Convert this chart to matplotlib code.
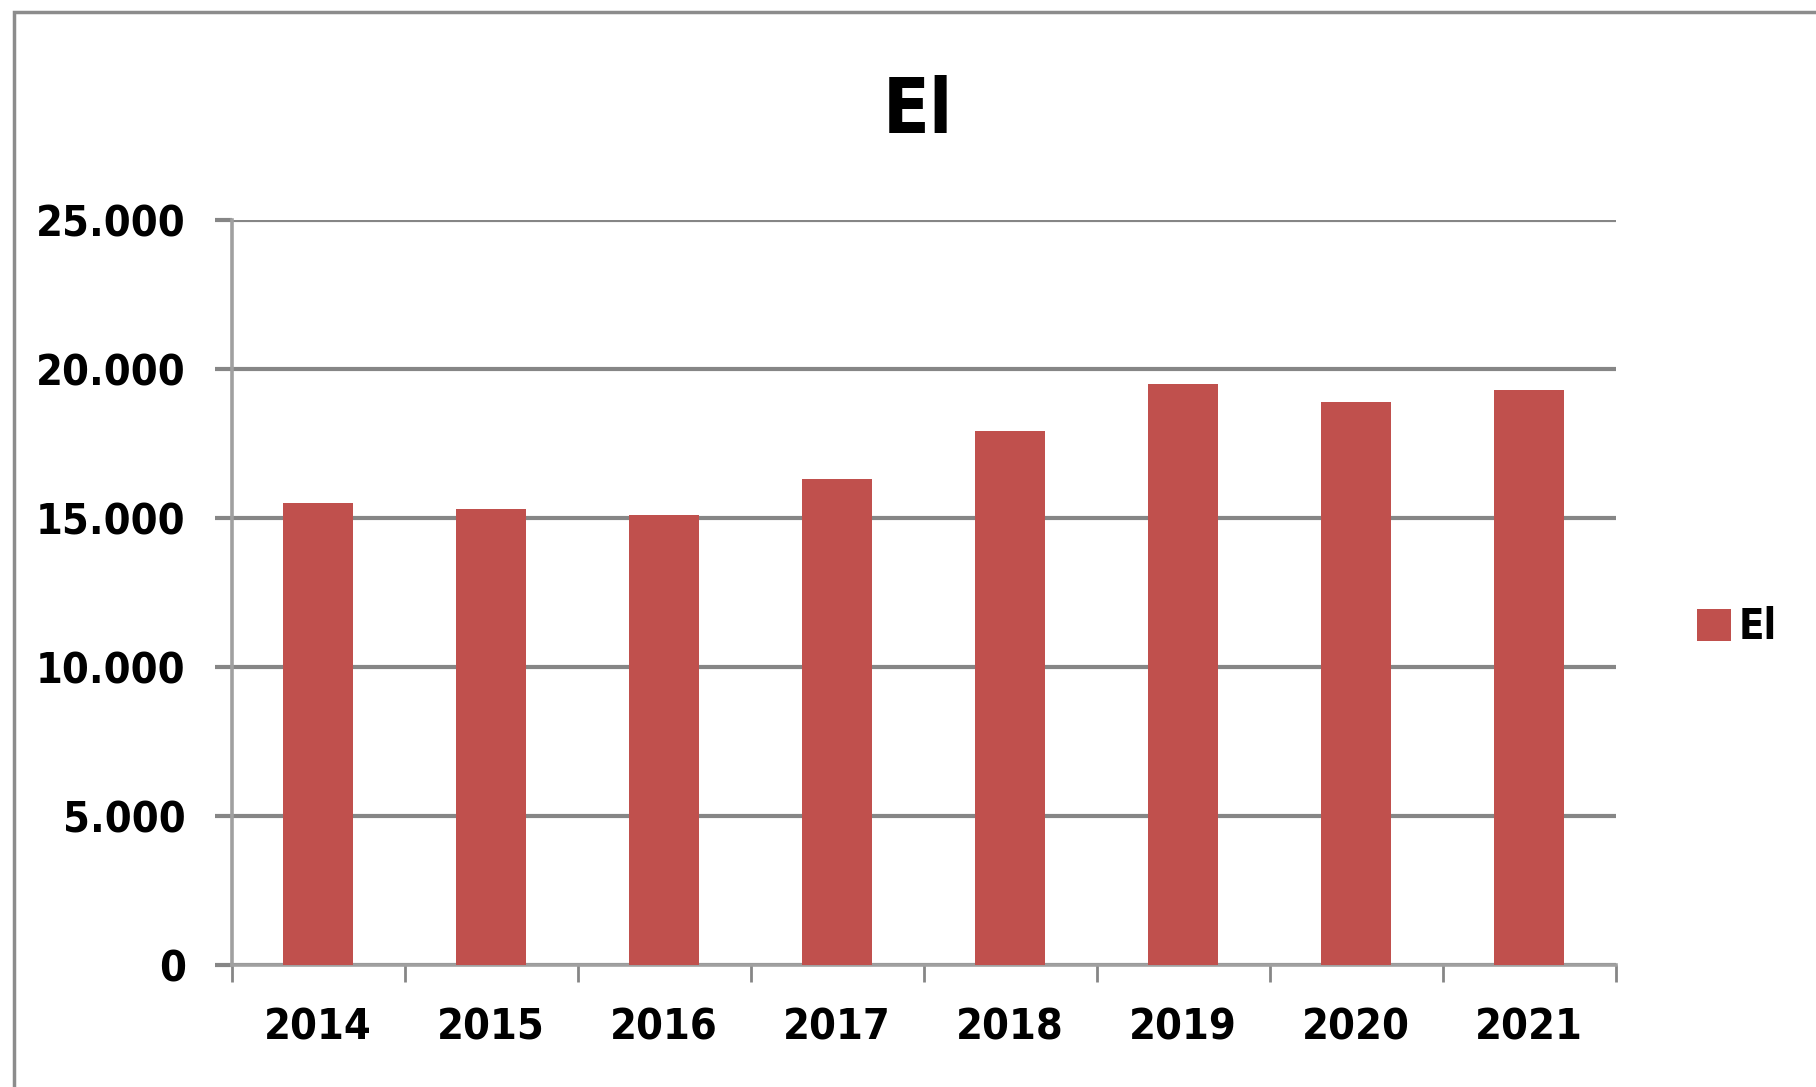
import matplotlib.pyplot as plt
import matplotlib.patches as mpatches
import numpy as np
from matplotlib.ticker import FuncFormatter

years = ['2014', '2015', '2016', '2017', '2018', '2019', '2020', '2021']
el = [15500, 15300, 15100, 16300, 17900, 19500, 18900, 19300]
y_ticks = [0, 5000, 10000, 15000, 20000, 25000]

bar_color = '#C0504D'
grid_color = '#868686'
font = ['DejaVu Sans']
plt.rcParams['font.stretch'] = 'condensed'

fig = plt.figure(figsize=(18.16, 10.87), dpi=100)
ax = fig.add_axes([0.1275, 0.1126, 0.7621, 0.685])

x = np.arange(len(years))
ax.bar(x, el, width=0.4, color=bar_color, label='El', zorder=3)

ax.set_xlim(-0.5, len(years) - 0.5)
ax.set_ylim(0, 25000)
ax.set_yticks(y_ticks)
ax.yaxis.set_major_formatter(FuncFormatter(lambda v, p: f'{int(v):,}'.replace(',', '.')))
ax.grid(axis='y', color=grid_color, linewidth=3, zorder=0)
ax.set_axisbelow(True)

# category labels centered, tick marks at category boundaries
ax.set_xticks(x)
ax.set_xticklabels(years)
ax.set_xticks(np.arange(len(years) + 1) - 0.5, minor=True)
ax.tick_params(axis='x', which='major', length=0, pad=30)
ax.tick_params(axis='x', which='minor', length=12, width=2, color=grid_color, direction='out')
ax.tick_params(axis='y', length=12, width=3, color=grid_color, pad=21)

for lab in ax.get_xticklabels() + ax.get_yticklabels():
    lab.set_family(font)
    lab.set_fontstretch('condensed')
    lab.set_fontweight('bold')
    lab.set_fontsize(31)

for s in ['top', 'right']:
    ax.spines[s].set_visible(False)
for s in ['left', 'bottom']:
    ax.spines[s].set_color('#A0A0A0')
    ax.spines[s].set_linewidth(2.6)

fig.text(0.5055, 0.897, 'El', ha='center', va='center', fontsize=55,
         fontweight='bold', family=font, fontstretch='condensed')

leg = ax.legend(loc='center left', bbox_to_anchor=(0.914, 0.423),
                bbox_transform=fig.transFigure, frameon=False,
                handlelength=0.8, handleheight=0.8, handletextpad=0.2,
                prop={'family': font, 'weight': 'bold', 'size': 30,
                      'stretch': 'condensed'})

# outer chart border (left and top edges visible)
fig.patches.append(mpatches.Rectangle((0.0077, -0.5), 2, 1.489, transform=fig.transFigure,
                                      fill=False, edgecolor='#8C8C8C', linewidth=2.5))

fig.savefig('out.png', dpi=100)
